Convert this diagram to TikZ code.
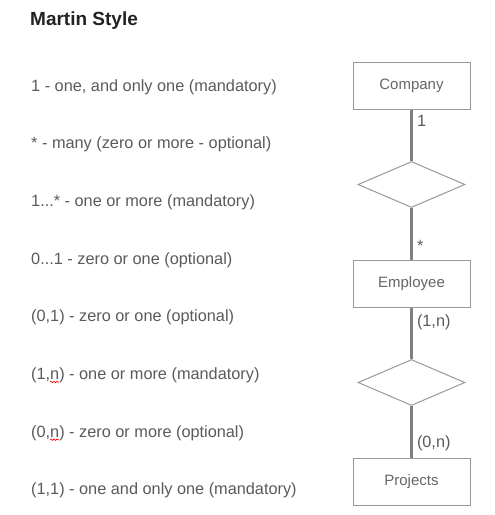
\documentclass[tikz,border=0pt]{standalone}
\usepackage{fontspec}
\setmainfont{Liberation Sans}
\usetikzlibrary{positioning,shapes.geometric,decorations.pathmorphing}

\definecolor{titletext}{HTML}{222222}
\definecolor{legendtext}{HTML}{5A5A5A}
\definecolor{boxtext}{HTML}{666666}
\definecolor{boxline}{HTML}{999999}
\definecolor{linkgray}{HTML}{808080}

\begin{document}
\begin{tikzpicture}[x=1pt, y=-1pt, node distance=99pt, every node/.style={font=\fontsize{16.3}{19}\selectfont}]
\tikzstyle{entity} = [rectangle, minimum width=117pt, minimum height=47pt,
text centered, draw=boxline, line width=1pt, fill=white, text=boxtext, font=\fontsize{15}{18}\selectfont]
\tikzstyle{relation} = [diamond, minimum width=107pt, minimum height=46pt, inner sep=0pt,
draw=boxline, line width=1pt, fill=white]
\tikzstyle{link} = [line width=3pt, draw=linkgray]
\tikzstyle{card} = [inner sep=1pt, text=legendtext]
\tikzstyle{legend} = [inner sep=0pt, anchor=base west, text=legendtext]
\tikzstyle{spell} = [red, line width=0.6pt, decorate, decoration={snake, amplitude=0.8pt, segment length=3pt}]

\useasboundingbox (0,0) rectangle (495,515);

% Title
\node (title) [anchor=base west, inner sep=0pt, text=titletext, font=\bfseries\fontsize{19}{23}\selectfont] at (30,25) {Martin Style};

% Legend
\node (l1) [legend] at (31,91) {1 - one, and only one (mandatory)};
\node (l2) [legend, below=57.7pt of l1.base west, anchor=base west] {* - many (zero or more - optional)};
\node (l3) [legend, below=57.7pt of l2.base west, anchor=base west] {1...* - one or more (mandatory)};
\node (l4) [legend, below=57.7pt of l3.base west, anchor=base west] {0...1 - zero or one (optional)};
\node (l5) [legend, below=57.7pt of l4.base west, anchor=base west] {(0,1) - zero or one (optional)};
\node (l6) [legend, below=57.7pt of l5.base west, anchor=base west] {(1,n) - one or more (mandatory)};
\node (l7) [legend, below=57.7pt of l6.base west, anchor=base west] {(0,n) - zero or more (optional)};
\node (l8) [legend, below=57.7pt of l7.base west, anchor=base west] {(1,1) - one and only one (mandatory)};

% spell-check marks
\draw [spell] ([xshift=19pt, yshift=-2.5pt]l6.base west) -- ++(9pt,0);
\draw [spell] ([xshift=19pt, yshift=-2.5pt]l7.base west) -- ++(9pt,0);

% Diagram
\node (company) [entity] at (411.5,85.5) {Company};
\node (works) [relation, below of=company] {};
\node (employee) [entity, below of=works] {Employee};
\node (assigned) [relation, below of=employee] {};
\node (projects) [entity, below of=assigned] {Projects};

% Links
\draw [link] (company) -- node[card, pos=0.22, right=3pt] {1} (works);
\draw [link] (works) -- node[card, pos=0.74, right=3pt] {*} (employee);
\draw [link] (employee) -- node[card, pos=0.29, right=3pt] {(1,n)} (assigned);
\draw [link] (assigned) -- node[card, pos=0.73, right=3pt] {(0,n)} (projects);
\end{tikzpicture}
\end{document}
